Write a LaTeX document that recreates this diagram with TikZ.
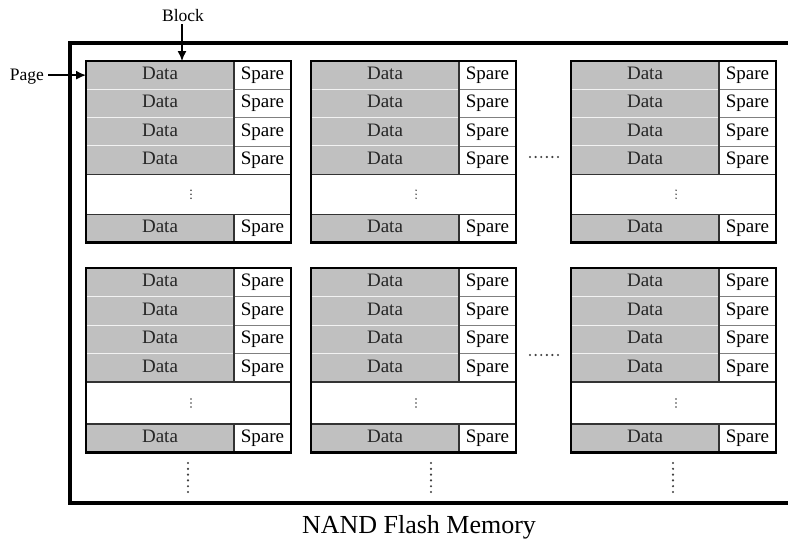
\documentclass[tikz,border=0pt]{standalone}
\usepackage{fontspec}
\setmainfont{Liberation Serif}
\usetikzlibrary{arrows.meta,calc}
\definecolor{cellgray}{RGB}{192,192,192}
\tikzset{
  celltext/.style={font=\fontsize{19}{21}\selectfont, text height=13pt, text depth=4pt, inner sep=0pt, outer sep=0pt, anchor=north west},
  datacell/.style={celltext, fill=cellgray, draw=white!80!cellgray, line width=0.9pt, minimum width=148pt, text=black!85},
  sparecell/.style={celltext, fill=white, draw=gray, line width=0.8pt, minimum width=57pt},
  gapcell/.style={inner sep=0pt, outer sep=0pt, anchor=north west, minimum width=205pt, fill=white},
  blockframe/.style={line width=2.4pt, line join=miter},
  divider/.style={line width=1.2pt, draw=black!80},
  label/.style={font=\fontsize{17.5}{20}\selectfont, inner sep=0pt, anchor=base},
  pointer/.style={line width=1.4pt, -{Latex[length=10pt,width=9pt]}},
  frame/.style={line width=4.5pt, line join=miter},
  tinydot/.style={fill=black!75, draw=none},
}
% One block: name, left x, top y, page-row height, gap-row height
\newcommand{\flashblock}[5]{%
  \begin{scope}[shift={(#2,#3)}]
    \foreach \i in {1,...,4}{%
      \node[datacell, minimum height=#4pt] (#1-d\i) at (0,{(\i-1)*#4}) {Data};
      \node[sparecell, minimum height=#4pt] (#1-s\i) at (148,{(\i-1)*#4}) {Spare};
    }
    \node[gapcell, minimum height=#5pt] (#1-gap) at (0,{4*#4}) {};
    \node[datacell, minimum height=#4pt] (#1-dl) at (0,{4*#4+#5}) {Data};
    \node[sparecell, minimum height=#4pt] (#1-sl) at (148,{4*#4+#5}) {Spare};
    \draw[divider] (#1-d1.north east) -- (#1-d4.south east);
    \draw[divider] (#1-dl.north east) -- (#1-dl.south east);
    \draw[divider] (#1-d4.south west) -- (#1-s4.south east);
    \draw[divider] (#1-dl.north west) -- (#1-sl.north east);
    \foreach \k in {-1,0,1}{%
      \fill[tinydot] ($(#1-gap.center)+(2.5,\k*4)$) circle (0.8pt);
    }
    \draw[blockframe] (#1-d1.north west) rectangle (#1-sl.south east);
  \end{scope}
}
\begin{document}
\begin{tikzpicture}[x=1pt,y=-1pt]
  \clip (0,0) rectangle (788,546);
  \fill[white] (0,0) rectangle (788,546);

  % outer chip outline, open to the right
  \draw[frame] (800,43) -- (70,43) -- (70,503) -- (800,503);

  % blocks: two rows of three
  \flashblock{b11}{86}{61}{28.3}{40}
  \flashblock{b12}{311}{61}{28.3}{40}
  \flashblock{b13}{571}{61}{28.3}{40}
  \flashblock{b21}{86}{268}{28.5}{42}
  \flashblock{b22}{311}{268}{28.5}{42}
  \flashblock{b23}{571}{268}{28.5}{42}

  % continuation marks between columns
  \foreach \yy in {157,355}{%
    \foreach \k in {0,...,5}{%
      \fill[tinydot] ({530+\k*5.6},\yy) circle (1.2pt);
    }
  }
  % continuation marks below the lower blocks
  \foreach \xx in {188,431,673}{%
    \foreach \k in {0,...,5}{%
      \fill[tinydot] (\xx,{463+\k*5.8}) circle (1.2pt);
    }
  }

  % labels and pointers
  \node[label] (pagelbl) at (27,80) {Page};
  \node[label] (blocklbl) at (183,21) {Block};
  \coordinate (blocktip) at (182,61);
  \draw[pointer] (pagelbl.east |- b11-d1.west) ++(4,0) -- (b11-d1.west);
  \draw[pointer] (blocklbl.south) ++(-1,3) -- (blocktip);

  \node[font=\fontsize{26}{30}\selectfont, inner sep=0pt, anchor=base] (title) at (419,533) {NAND Flash Memory};
\end{tikzpicture}
\end{document}
